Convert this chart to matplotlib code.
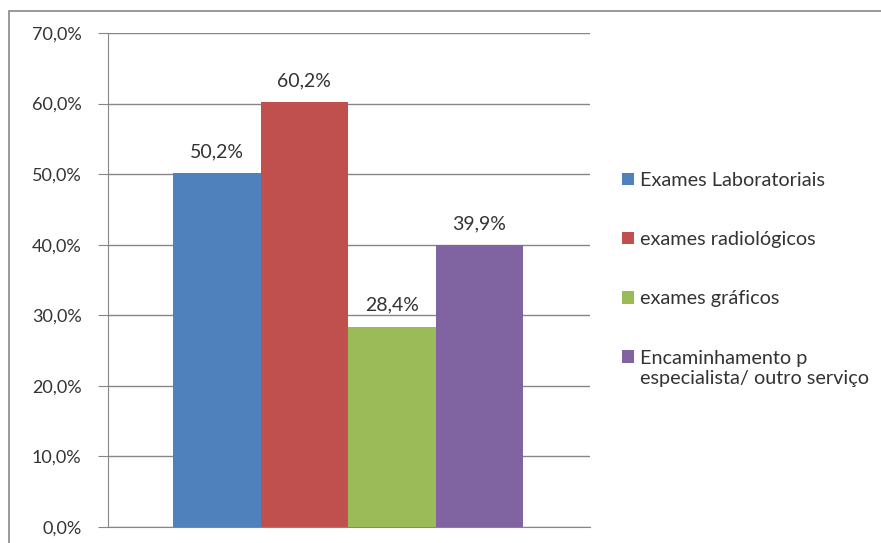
import matplotlib.pyplot as plt
from matplotlib.patches import Rectangle

plt.rcParams['font.family'] = ['Lato', 'DejaVu Sans']

categories = ["Exames Laboratoriais", "exames radiológicos", "exames gráficos",
              "Encaminhamento p\nespecialista/ outro serviço"]
values = [50.2, 60.2, 28.4, 39.9]
colors = ["#4F81BD", "#C0504D", "#9BBB59", "#8064A2"]
yticks = [0, 10, 20, 30, 40, 50, 60, 70]

W, H = 881, 543
fig = plt.figure(figsize=(W / 100, H / 100), dpi=100)
ax = fig.add_axes([108 / W, 1 - 527 / H, (590 - 108) / W, (527 - 33) / H])

w = 87.5 / 482
offsets = [-1.5, -0.5, 0.5, 1.5]
for i in range(len(values)):
    ax.bar(offsets[i] * w - 0.002, values[i], width=w, color=colors[i],
           label=categories[i], zorder=3)
    ax.text(offsets[i] * w - 0.002, values[i] + 1.8, f"{values[i]:.1f}%".replace(".", ","),
            ha="center", va="bottom", fontsize=14, color="#333333")

ax.set_xlim(-0.5, 0.5)
ax.set_ylim(0, 70)
ax.set_yticks(yticks)
ax.set_yticklabels([f"{t:.1f}%".replace(".", ",") for t in yticks], fontsize=13, color="#333333")
ax.set_xticks([])
ax.grid(axis="y", color="#868686", linewidth=1, zorder=0)
for s in ["top", "right"]:
    ax.spines[s].set_visible(False)
ax.spines["left"].set_color("#868686")
ax.spines["bottom"].set_color("#868686")
ax.tick_params(axis="y", length=7, color="#868686", pad=12)

leg = fig.legend(loc="upper left", bbox_to_anchor=(604 / W, 1 - 154 / H), frameon=False,
                 fontsize=14.3, handlelength=0.6, handleheight=0.6, handletextpad=0.3,
                 labelspacing=2.13, labelcolor="#333333")
# square next to first line of the two-line entry, like Excel does
h = leg.legend_handles[3]
h.set_y(h.get_y() + 8.5)

fig.patches.append(Rectangle((9 / W, -0.1), 1.2, 1 - 11 / H + 0.1, transform=fig.transFigure,
                             fill=False, edgecolor="#888888", linewidth=1.2))

fig.savefig("out.png", dpi=100)
